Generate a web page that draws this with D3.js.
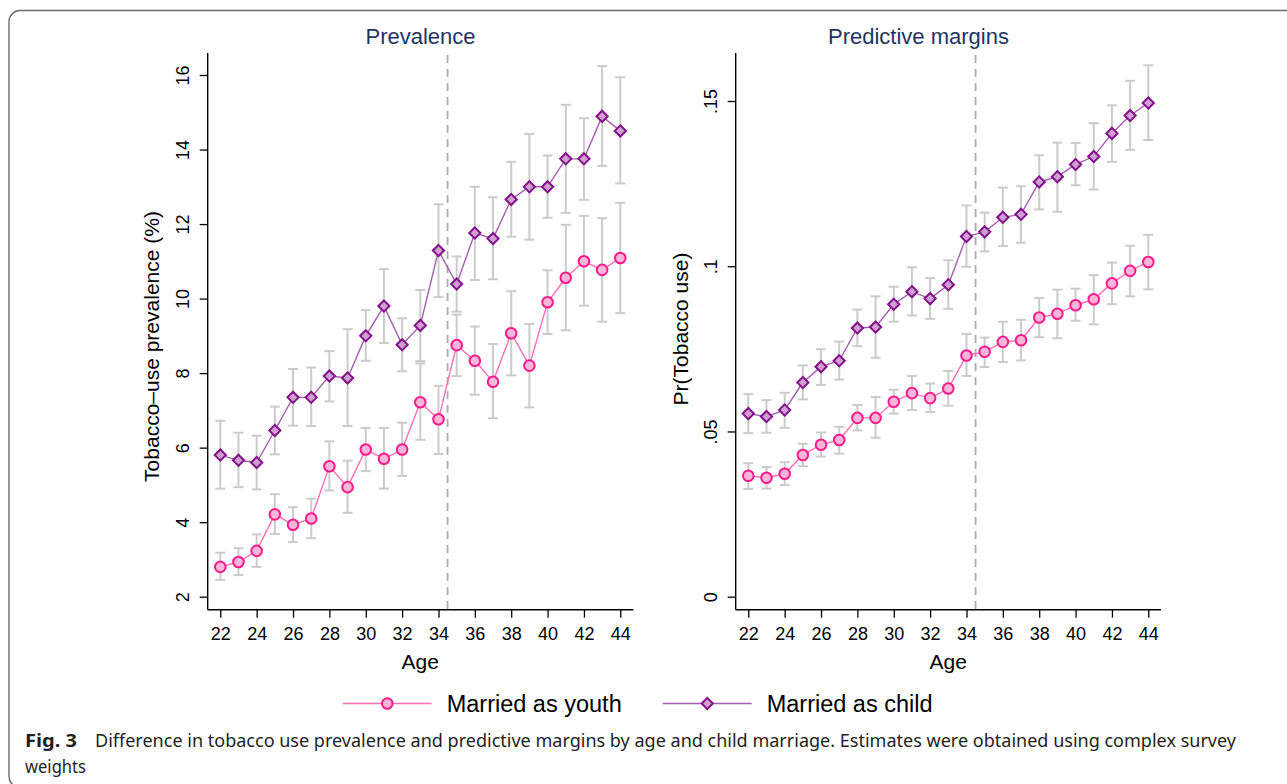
<!DOCTYPE html>
<html>
<head>
<meta charset="utf-8">
<script src="https://cdn.jsdelivr.net/npm/d3@7"></script>
<style>
  html, body { margin: 0; padding: 0; background: #fff; }
  svg { display: block; }
</style>
</head>
<body>
<svg id="fig" width="1287" height="784"></svg>
<script>
// Ages shown on both panels
const ages = d3.range(22, 45);

// Panel 1: tobacco-use prevalence (%) with 95% CI
const prevYouth   = [2.80,2.93,3.23,4.21,3.93,4.10,5.50,4.94,5.95,5.70,5.95,7.22,6.76,8.75,8.33,7.77,9.07,8.20,9.90,10.56,11.00,10.77,11.09];
const prevYouthLo = [2.45,2.58,2.80,3.68,3.47,3.57,4.85,4.25,5.37,4.90,5.24,6.21,5.83,7.92,7.42,6.79,7.94,7.08,9.05,9.15,9.81,9.38,9.61];
const prevYouthHi = [3.18,3.30,3.67,4.75,4.40,4.63,6.17,5.65,6.53,6.53,6.67,8.26,7.66,9.57,9.25,8.78,10.20,9.32,10.76,11.98,12.22,12.16,12.57];
const prevChild   = [5.80,5.66,5.60,6.46,7.35,7.35,7.92,7.87,9.00,9.80,8.76,9.28,11.29,10.39,11.76,11.61,12.66,13.00,13.00,13.75,13.75,14.89,14.50];
const prevChildLo = [4.90,4.94,4.88,5.82,6.59,6.58,7.24,6.58,8.33,8.81,8.05,8.32,10.04,9.65,10.50,10.52,11.66,11.58,12.17,12.30,12.65,13.56,13.09];
const prevChildHi = [6.72,6.40,6.32,7.10,8.11,8.15,8.59,9.18,9.69,10.79,9.47,10.23,12.53,11.13,13.00,12.72,13.67,14.42,13.84,15.20,14.84,16.24,15.94];

// Panel 2: predictive margins Pr(Tobacco use) with 95% CI
const margYouth   = [.0366,.0360,.0372,.0429,.0460,.0474,.0541,.0541,.0590,.0616,.0601,.0630,.0730,.0741,.0771,.0776,.0845,.0856,.0882,.0900,.0948,.0986,.1013];
const margYouthLo = [.0326,.0327,.0338,.0395,.0424,.0433,.0503,.0481,.0554,.0565,.0559,.0578,.0668,.0695,.0710,.0715,.0785,.0782,.0835,.0824,.0885,.0909,.0930];
const margYouthHi = [.0404,.0392,.0407,.0463,.0497,.0514,.0580,.0604,.0626,.0668,.0645,.0683,.0795,.0784,.0832,.0838,.0904,.0929,.0932,.0973,.1011,.1062,.1095];
const margChild   = [.0554,.0545,.0565,.0648,.0696,.0714,.0813,.0816,.0885,.0923,.0902,.0944,.1090,.1104,.1148,.1157,.1255,.1271,.1308,.1332,.1402,.1456,.1494];
const margChildLo = [.0495,.0496,.0511,.0597,.0641,.0657,.0758,.0723,.0832,.0851,.0841,.0871,.0998,.1045,.1061,.1071,.1172,.1165,.1245,.1232,.1316,.1352,.1382];
const margChildHi = [.0613,.0595,.0617,.0700,.0749,.0772,.0869,.0909,.0938,.0997,.0964,.1018,.1184,.1162,.1238,.1242,.1336,.1374,.1373,.1433,.1487,.1561,.1608];

// Tick labels
const xTicks = [22,24,26,28,30,32,34,36,38,40,42,44];
const prevTicks = [2,4,6,8,10,12,14,16];
const margTicks = [0,.05,.1,.15];
const margTickLabels = ["0",".05",".1",".15"];

const seriesNames = ["Married as youth", "Married as child"];
const cutoffAge = 34.5;

const svg = d3.select("#fig");
const fontAxis = "'Liberation Sans', Arial, Helvetica, sans-serif";

const styles = {
  youth: { line: "#ff6eb6", stroke: "#ff1a8c", fill: "#ffb6d8", shape: "circle" },
  child: { line: "#a45db0", stroke: "#83108a", fill: "#cf9fd0", shape: "diamond" }
};

// Outer frame
svg.append("rect")
  .attr("x", 9).attr("y", 10.5).attr("width", 1300).attr("height", 777)
  .attr("rx", 11).attr("ry", 11)
  .attr("fill", "none").attr("stroke", "#6d6d6d").attr("stroke-width", 1.4);

function drawMarker(g, shape, x, y, st) {
  if (shape === "circle") {
    g.append("circle").attr("cx", x).attr("cy", y).attr("r", 5.3)
      .attr("fill", st.fill).attr("stroke", st.stroke).attr("stroke-width", 2);
  } else {
    const s = 5.6;
    g.append("path")
      .attr("d", `M${x},${y - s}L${x + s},${y}L${x},${y + s}L${x - s},${y}Z`)
      .attr("fill", st.fill).attr("stroke", st.stroke).attr("stroke-width", 2);
  }
}

function panel(opt) {
  const g = svg.append("g");
  const x = d3.scaleLinear().domain([22, 44]).range(opt.xRange);
  const y = d3.scaleLinear().domain(opt.yDomain).range(opt.yRange);
  const left = opt.axisX, bottom = 609.7;

  // Title
  g.append("text").attr("x", opt.titleX).attr("y", 43.5)
    .attr("text-anchor", "middle").attr("font-family", fontAxis)
    .attr("font-size", 22).attr("fill", "#1f3463").text(opt.title);

  // Y axis
  const yAxis = d3.axisLeft(y).tickValues(opt.yTicks).tickSize(8).tickSizeOuter(0)
    .tickFormat((d, i) => opt.yLabels ? opt.yLabels[i] : d);
  const ya = g.append("g").attr("transform", `translate(${left},0)`).call(yAxis);
  ya.select(".domain").remove();
  ya.selectAll(".tick line").attr("stroke", "#000").attr("stroke-width", 1.3);
  ya.selectAll(".tick text")
    .attr("x", null).attr("dy", null).attr("y", null)
    .attr("transform", "translate(-18.5,0) rotate(-90)")
    .attr("text-anchor", "middle")
    .attr("font-family", fontAxis).attr("font-size", 18).attr("fill", "#000");

  // X axis
  const xAxis = d3.axisBottom(x).tickValues(xTicks).tickSize(8).tickSizeOuter(0).tickPadding(9.5);
  const xa = g.append("g").attr("transform", `translate(0,${bottom})`).call(xAxis);
  xa.select(".domain").remove();
  xa.selectAll(".tick line").attr("stroke", "#000").attr("stroke-width", 1.3);
  xa.selectAll(".tick text").attr("font-family", fontAxis).attr("font-size", 18).attr("fill", "#000");

  // Axis lines
  g.append("line").attr("x1", left).attr("x2", left).attr("y1", 53).attr("y2", bottom)
    .attr("stroke", "#000").attr("stroke-width", 1.4);
  g.append("line").attr("x1", left).attr("x2", opt.xEnd).attr("y1", bottom).attr("y2", bottom)
    .attr("stroke", "#000").attr("stroke-width", 1.4);

  // Axis titles
  g.append("text").attr("x", (opt.xRange[0] + opt.xRange[1]) / 2).attr("y", 669)
    .attr("text-anchor", "middle").attr("font-family", fontAxis).attr("font-size", 21)
    .attr("fill", "#000").text("Age");
  g.append("text")
    .attr("transform", `translate(${opt.yTitleX},${opt.yTitleY}) rotate(-90)`)
    .attr("text-anchor", "middle").attr("font-family", fontAxis).attr("font-size", 21)
    .attr("fill", "#000").text(opt.yTitle);

  // Cut-off reference line
  g.append("line").attr("x1", x(cutoffAge)).attr("x2", x(cutoffAge))
    .attr("y1", 55).attr("y2", bottom)
    .attr("stroke", "#ababab").attr("stroke-width", 1.8).attr("stroke-dasharray", "8,6");

  // Confidence intervals
  opt.series.forEach(s => {
    const ci = g.append("g").attr("stroke", "#cbcbcb").attr("stroke-width", 2).attr("fill", "none");
    ages.forEach((a, i) => {
      const cx = x(a), y0 = y(s.lo[i]), y1 = y(s.hi[i]);
      ci.append("line").attr("x1", cx).attr("x2", cx).attr("y1", y0).attr("y2", y1);
      ci.append("line").attr("x1", cx - 5).attr("x2", cx + 5).attr("y1", y0).attr("y2", y0);
      ci.append("line").attr("x1", cx - 5).attr("x2", cx + 5).attr("y1", y1).attr("y2", y1);
    });
  });

  // Lines and markers
  opt.series.forEach(s => {
    const st = styles[s.key];
    g.append("path")
      .datum(ages.map((a, i) => [a, s.est[i]]))
      .attr("fill", "none").attr("stroke", st.line).attr("stroke-width", 1.4)
      .attr("d", d3.line().x(d => x(d[0])).y(d => y(d[1])));
    const mg = g.append("g");
    ages.forEach((a, i) => drawMarker(mg, st.shape, x(a), y(s.est[i]), st));
  });
}

panel({
  title: "Prevalence", titleX: 420.5,
  xRange: [220.3, 620.3], xEnd: 633.3, axisX: 207.7,
  yDomain: [2, 16], yRange: [596.7, 75], yTicks: prevTicks,
  yTitle: "Tobacco\u2013use prevalence (%)", yTitleX: 159, yTitleY: 346.5,
  series: [
    { key: "youth", est: prevYouth, lo: prevYouthLo, hi: prevYouthHi },
    { key: "child", est: prevChild, lo: prevChildLo, hi: prevChildHi }
  ]
});

panel({
  title: "Predictive margins", titleX: 918.5,
  xRange: [748.3, 1148.3], xEnd: 1161, axisX: 735.7,
  yDomain: [0, .15], yRange: [596.7, 101], yTicks: margTicks, yLabels: margTickLabels,
  yTitle: "Pr(Tobacco use)", yTitleX: 687.5, yTitleY: 329,
  series: [
    { key: "youth", est: margYouth, lo: margYouthLo, hi: margYouthHi },
    { key: "child", est: margChild, lo: margChildLo, hi: margChildHi }
  ]
});

// Legend
const legend = svg.append("g");
[["youth", 342.7], ["child", 662.7]].forEach(([key, x0], i) => {
  const st = styles[key];
  legend.append("line").attr("x1", x0).attr("x2", x0 + 89).attr("y1", 703.5).attr("y2", 703.5)
    .attr("stroke", st.line).attr("stroke-width", 1.4);
  drawMarker(legend, st.shape, x0 + 44.6, 703.5, st);
  legend.append("text").attr("x", x0 + 104).attr("y", 711.5)
    .attr("font-family", fontAxis).attr("font-size", 23.5).attr("fill", "#000")
    .text(seriesNames[i]);
});

// Caption
const capFont = "'Noto Sans', 'Open Sans', sans-serif";
svg.append("text").attr("x", 25).attr("y", 746.5)
  .attr("font-family", capFont).attr("font-size", 18.5).attr("font-weight", "bold")
  .attr("fill", "#231f20")
  .attr("textLength", 52).attr("lengthAdjust", "spacingAndGlyphs")
  .text("Fig. 3");
svg.append("text").attr("x", 95).attr("y", 746.5)
  .attr("font-family", capFont).attr("font-size", 17.5).attr("fill", "#231f20")
  .attr("textLength", 1141).attr("lengthAdjust", "spacingAndGlyphs")
  .text("Difference in tobacco use prevalence and predictive margins by age and child marriage. Estimates were obtained using complex survey");
svg.append("text").attr("x", 25).attr("y", 772.5)
  .attr("font-family", capFont).attr("font-size", 17.5).attr("fill", "#231f20")
  .attr("textLength", 61).attr("lengthAdjust", "spacingAndGlyphs")
  .text("weights");
</script>
</body>
</html>
